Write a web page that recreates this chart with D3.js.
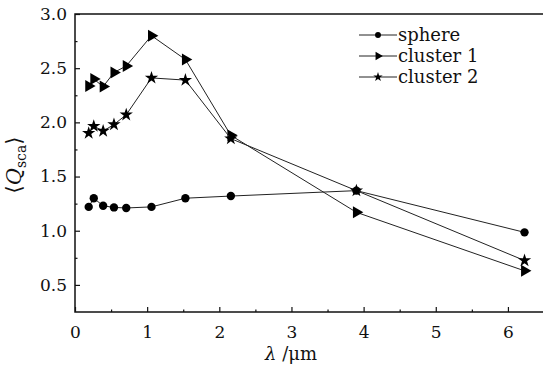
<!DOCTYPE html>
<html>
<head>
<meta charset="utf-8">
<script src="https://cdn.jsdelivr.net/npm/d3@7"></script>
<style>
  body { margin: 0; background: #fff; }
  text { font-family: "DejaVu Serif", serif; fill: #111; }
</style>
</head>
<body>
<div id="chart"></div>
<script>
// Scattering efficiency vs wavelength

const wavelength = [0.19, 0.26, 0.39, 0.54, 0.71, 1.06, 1.53, 2.16, 3.9, 6.23];
const sphere   = [1.22, 1.30, 1.23, 1.215, 1.21, 1.22, 1.30, 1.32, 1.37, 0.985];
const cluster1 = [2.335, 2.40, 2.33, 2.46, 2.52, 2.80, 2.58, 1.88, 1.17, 0.63];
const cluster2 = [1.90, 1.965, 1.92, 1.98, 2.07, 2.41, 2.39, 1.85, 1.37, 0.725];
const seriesNames = ["sphere", "cluster 1", "cluster 2"];
const xTicks = [0, 1, 2, 3, 4, 5, 6];
const yTicks = [0.5, 1.0, 1.5, 2.0, 2.5, 3.0];

const width = 543, height = 369;
const margin = {top: 14, right: -1, bottom: 57, left: 75};

const svg = d3.select("#chart")
    .append("svg")
    .attr("width", width)
    .attr("height", height);

const x = d3.scaleLinear().domain([0, 6.5]).range([margin.left, width - margin.right]);
const y = d3.scaleLinear().domain([0.25, 3.0]).range([height - margin.bottom, margin.top]);

const g = svg.append("g");

// box
g.append("rect")
    .attr("x", x(0)).attr("y", y(3.0))
    .attr("width", x(6.5) - x(0)).attr("height", y(0.25) - y(3.0))
    .attr("fill", "none").attr("stroke", "#111").attr("stroke-width", 1.5);

// x axis, ticks inward
g.append("g")
    .attr("transform", `translate(0,${y(0.25)})`)
    .call(d3.axisBottom(x).tickValues(xTicks).tickSize(-5).tickPadding(14).tickFormat(d3.format("d")));
g.append("g")
    .attr("transform", `translate(0,${y(0.25)})`)
    .call(d3.axisBottom(x).tickValues(d3.range(0.5, 6.5, 1)).tickSize(-2.5).tickFormat(""));

// y axis
g.append("g")
    .attr("transform", `translate(${x(0)},0)`)
    .call(d3.axisLeft(y).tickValues(yTicks).tickSize(-5).tickPadding(8).tickFormat(d3.format(".1f")));
g.append("g")
    .attr("transform", `translate(${x(0)},0)`)
    .call(d3.axisLeft(y).tickValues([0.75, 1.25, 1.75, 2.25, 2.75]).tickSize(-2.5).tickFormat(""));

g.selectAll(".domain").remove();
g.selectAll(".tick line").attr("stroke", "#111").attr("stroke-width", 1.2);
g.selectAll(".tick text")
    .style("font-family", "'DejaVu Serif', serif")
    .style("font-size", "17px")
    .attr("fill", "#111");

// series
const series = [
    {name: seriesNames[0], values: sphere,   symbol: d3.symbolCircle,   size: 55, rotate: 0},
    {name: seriesNames[1], values: cluster1, symbol: d3.symbolTriangle, size: 62, rotate: 90},
    {name: seriesNames[2], values: cluster2, symbol: d3.symbolStar,     size: 55, rotate: 0}
];

const line = d3.line()
    .x((d, i) => x(wavelength[i]))
    .y(d => y(d));

series.forEach(s => {
    g.append("path")
        .attr("d", line(s.values))
        .attr("fill", "none")
        .attr("stroke", "#222")
        .attr("stroke-width", 1);
    g.selectAll(null)
        .data(s.values)
        .enter()
        .append("path")
        .attr("d", d3.symbol().type(s.symbol).size(s.size))
        .attr("transform", (d, i) => `translate(${x(wavelength[i])},${y(d)}) rotate(${s.rotate})`)
        .attr("fill", "#000");
});

// legend
const legend = g.append("g").attr("transform", "translate(359,35)");
series.forEach((s, i) => {
    const row = legend.append("g").attr("transform", `translate(0,${i * 21})`);
    row.append("line")
        .attr("x1", 0).attr("x2", 38).attr("y1", 0).attr("y2", 0)
        .attr("stroke", "#222").attr("stroke-width", 1);
    row.append("path")
        .attr("d", d3.symbol().type(s.symbol).size(s.size * 0.5))
        .attr("transform", `translate(19,0) rotate(${s.rotate})`)
        .attr("fill", "#000");
    row.append("text")
        .attr("x", 39).attr("y", 0).attr("dy", "0.32em")
        .style("font-size", "18px")
        .text(s.name);
});

// axis titles
const xt = svg.append("text")
    .attr("x", 291).attr("y", 360)
    .attr("text-anchor", "middle")
    .style("font-size", "18px");
xt.append("tspan").style("font-style", "italic").text("λ");
xt.append("tspan").text(" /μm");

const yt = svg.append("text")
    .attr("transform", "translate(21,165) rotate(-90)")
    .attr("text-anchor", "middle")
    .style("font-size", "21px");
yt.append("tspan").text("⟨");
yt.append("tspan").style("font-style", "italic").text("Q");
yt.append("tspan").attr("dy", 5).style("font-size", "14px").text("sca");
yt.append("tspan").attr("dy", -5).text("⟩");
</script>
</body>
</html>
